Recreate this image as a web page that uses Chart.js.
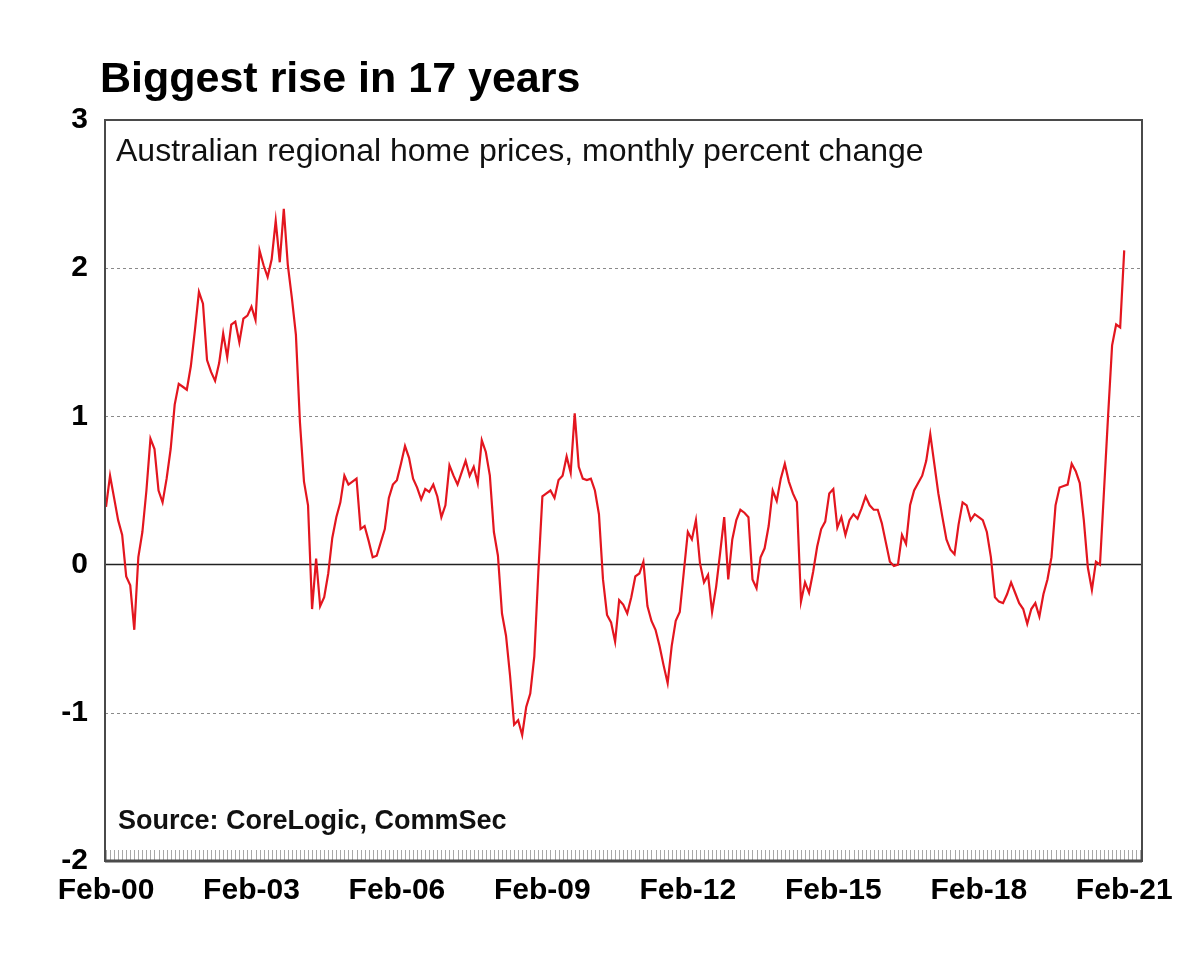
<!DOCTYPE html>
<html>
<head>
<meta charset="utf-8">
<script src="https://cdn.jsdelivr.net/npm/chart.js@4.4.1/dist/chart.umd.min.js"></script>
<style>
  body { margin: 0; background: #fff; }
  canvas { display: block; }
</style>
</head>
<body>
<canvas id="chart" width="1200" height="961"></canvas>
<script>
// monthly categories Feb-00 .. Feb-21
const monthNames = ['Jan', 'Feb', 'Mar', 'Apr', 'May', 'Jun', 'Jul', 'Aug', 'Sep', 'Oct', 'Nov', 'Dec'];
const months = [];
for (let y = 2000; y <= 2021; y++) {
    for (let m = 0; m < 12; m++) {
        if (y === 2000 && m < 1) continue;
        if (y === 2021 && m > 1) break;
        months.push(monthNames[m] + '-' + String(y % 100).padStart(2, '0'));
    }
}

const tickLabels = ['Feb-00', 'Feb-03', 'Feb-06', 'Feb-09', 'Feb-12', 'Feb-15', 'Feb-18', 'Feb-21'];
const yTicks = [-2, -1, 0, 1, 2, 3];
const gridValues = [-1, 1, 2];

// regional home prices, monthly % change
const regional = [
    0.39, 0.60, 0.45, 0.30, 0.20, -0.08, -0.14, -0.44, 0.05, 0.22, 0.50, 0.85, 0.78, 0.50, 0.42, 0.58, 0.78, 1.08, 1.22, 1.20,
    1.18, 1.34, 1.58, 1.84, 1.76,
    1.38, 1.30, 1.24, 1.36, 1.56, 1.40, 1.62, 1.64, 1.50, 1.66, 1.68, 1.74, 1.65, 2.12, 2.02, 1.94, 2.06, 2.32, 2.04, 2.40,
    2.02, 1.80, 1.55, 0.96, 0.56, 0.40, -0.30, 0.04, -0.28, -0.22, -0.06, 0.18, 0.32, 0.42, 0.60, 0.54, 0.56, 0.58, 0.24, 0.26,
    0.16, 0.05, 0.06, 0.15, 0.24, 0.45, 0.54, 0.57, 0.68, 0.80, 0.72,
    0.58, 0.52, 0.44, 0.51, 0.49, 0.54, 0.46, 0.32, 0.40, 0.67, 0.60, 0.54, 0.62, 0.70, 0.60, 0.66, 0.55, 0.84, 0.76, 0.60,
    0.22, 0.06, -0.33, -0.48, -0.75, -1.08, -1.05, -1.15, -0.96, -0.87, -0.62, -0.05, 0.46, 0.48, 0.50, 0.45, 0.57, 0.60, 0.73, 0.62,
    1.02, 0.66, 0.58, 0.57, 0.58, 0.50, 0.34, -0.10,
    -0.34, -0.39, -0.52, -0.24, -0.27, -0.33, -0.22, -0.08, -0.06, 0.02, -0.28, -0.38, -0.44, -0.55, -0.68, -0.80, -0.55, -0.38, -0.32, -0.05,
    0.22, 0.17, 0.30, 0.01, -0.12, -0.07, -0.32, -0.15, 0.08, 0.32, -0.10, 0.17, 0.30, 0.37, 0.35, 0.32, -0.10, -0.16, 0.05, 0.11,
    0.26, 0.50, 0.43, 0.58, 0.68, 0.56, 0.48, 0.42, -0.25, -0.12, -0.19, -0.05, 0.12, 0.24,
    0.29, 0.48, 0.51, 0.25, 0.32, 0.20, 0.30, 0.34, 0.31, 0.38, 0.46, 0.40, 0.37, 0.37, 0.28, 0.15, 0.02, -0.01, 0.00, 0.20,
    0.14, 0.40, 0.50, 0.55, 0.60, 0.70, 0.88, 0.68, 0.48, 0.32, 0.17, 0.10, 0.07, 0.27, 0.42, 0.40, 0.30, 0.34, 0.32, 0.30,
    0.22, 0.05, -0.22, -0.25,
    -0.26, -0.20, -0.12, -0.19, -0.26, -0.30, -0.40, -0.30, -0.26, -0.35, -0.20, -0.10, 0.05, 0.40, 0.52, 0.53, 0.54, 0.68, 0.63, 0.55,
    0.30, -0.02, -0.17, 0.02, 0.00, 0.50, 1.00, 1.48, 1.62, 1.60, 2.12
];

const FONT = '"Liberation Sans", Arial, sans-serif';

// title, subtitle, source, grid, frame and the small monthly ticks
const framePlugin = {
    id: 'frame',
    beforeDatasetsDraw(chart) {
        const { ctx, chartArea: a, scales: { x, y } } = chart;
        ctx.save();
        ctx.lineWidth = 1;
        ctx.strokeStyle = '#8a8a8a';
        ctx.setLineDash([3, 3]);
        gridValues.forEach(v => {
            const py = Math.round(y.getPixelForValue(v)) + 0.5;
            ctx.beginPath();
            ctx.moveTo(a.left, py);
            ctx.lineTo(a.right, py);
            ctx.stroke();
        });
        ctx.setLineDash([]);
        ctx.strokeStyle = '#a8a8a8';
        for (let i = 0; i < months.length + 4; i++) {
            const px = Math.round(x.getPixelForValue(i)) + 0.5;
            if (px > a.right) break;
            ctx.beginPath();
            ctx.moveTo(px, a.bottom - 11);
            ctx.lineTo(px, a.bottom);
            ctx.stroke();
        }
        ctx.strokeStyle = '#222';
        ctx.lineWidth = 1.5;
        const zy = y.getPixelForValue(0);
        ctx.beginPath();
        ctx.moveTo(a.left, zy);
        ctx.lineTo(a.right, zy);
        ctx.stroke();
        ctx.restore();
    },
    afterDatasetsDraw(chart) {
        const { ctx, chartArea: a } = chart;
        ctx.save();
        ctx.strokeStyle = '#4a4a4a';
        ctx.lineWidth = 2;
        ctx.strokeRect(a.left, a.top, a.right - a.left, a.bottom - a.top);
        ctx.lineWidth = 3;
        ctx.beginPath();
        ctx.moveTo(a.left, a.bottom);
        ctx.lineTo(a.right, a.bottom);
        ctx.stroke();

        ctx.fillStyle = '#000';
        ctx.textBaseline = 'alphabetic';
        ctx.textAlign = 'left';
        ctx.font = 'bold 43px ' + FONT;
        ctx.fillText('Biggest rise in 17 years', 100, 92);
        ctx.fillStyle = '#111';
        ctx.font = '32px ' + FONT;
        ctx.fillText('Australian regional home prices, monthly percent change', 116, 161);
        ctx.font = 'bold 27px ' + FONT;
        ctx.fillText('Source: CoreLogic, CommSec', 118, 829);
        ctx.restore();
    }
};

new Chart(document.getElementById('chart'), {
    type: 'line',
    data: {
        datasets: [{
            data: regional.map((v, i) => ({ x: i, y: v })),
            borderColor: '#e3161f',
            borderWidth: 2.2,
            pointRadius: 0,
            tension: 0,
            fill: false
        }]
    },
    options: {
        responsive: false,
        animation: false,
        devicePixelRatio: 1,
        layout: { padding: { top: 120, right: 58, bottom: 0, left: 0 } },
        plugins: {
            legend: { display: false },
            tooltip: { enabled: false },
            title: { display: false }
        },
        scales: {
            x: {
                type: 'linear',
                min: -0.25,
                max: 256.4,
                grid: { display: false, drawTicks: false },
                border: { display: false },
                afterBuildTicks: s => { s.ticks = tickLabels.map(l => ({ value: months.indexOf(l) })); },
                afterFit: s => { s.height = 100; },
                ticks: {
                    autoSkip: false,
                    maxRotation: 0,
                    padding: 12,
                    color: '#000',
                    font: { family: FONT, size: 30, weight: 'bold' },
                    callback: v => months[v]
                }
            },
            y: {
                min: -2,
                max: 3,
                grid: { display: false, drawTicks: false },
                border: { display: false },
                afterBuildTicks: s => { s.ticks = yTicks.map(v => ({ value: v })); },
                afterFit: s => { s.width = 105; },
                ticks: {
                    padding: 17,
                    color: '#000',
                    font: { family: FONT, size: 30, weight: 'bold' }
                }
            }
        }
    },
    plugins: [framePlugin]
});
</script>
</body>
</html>
